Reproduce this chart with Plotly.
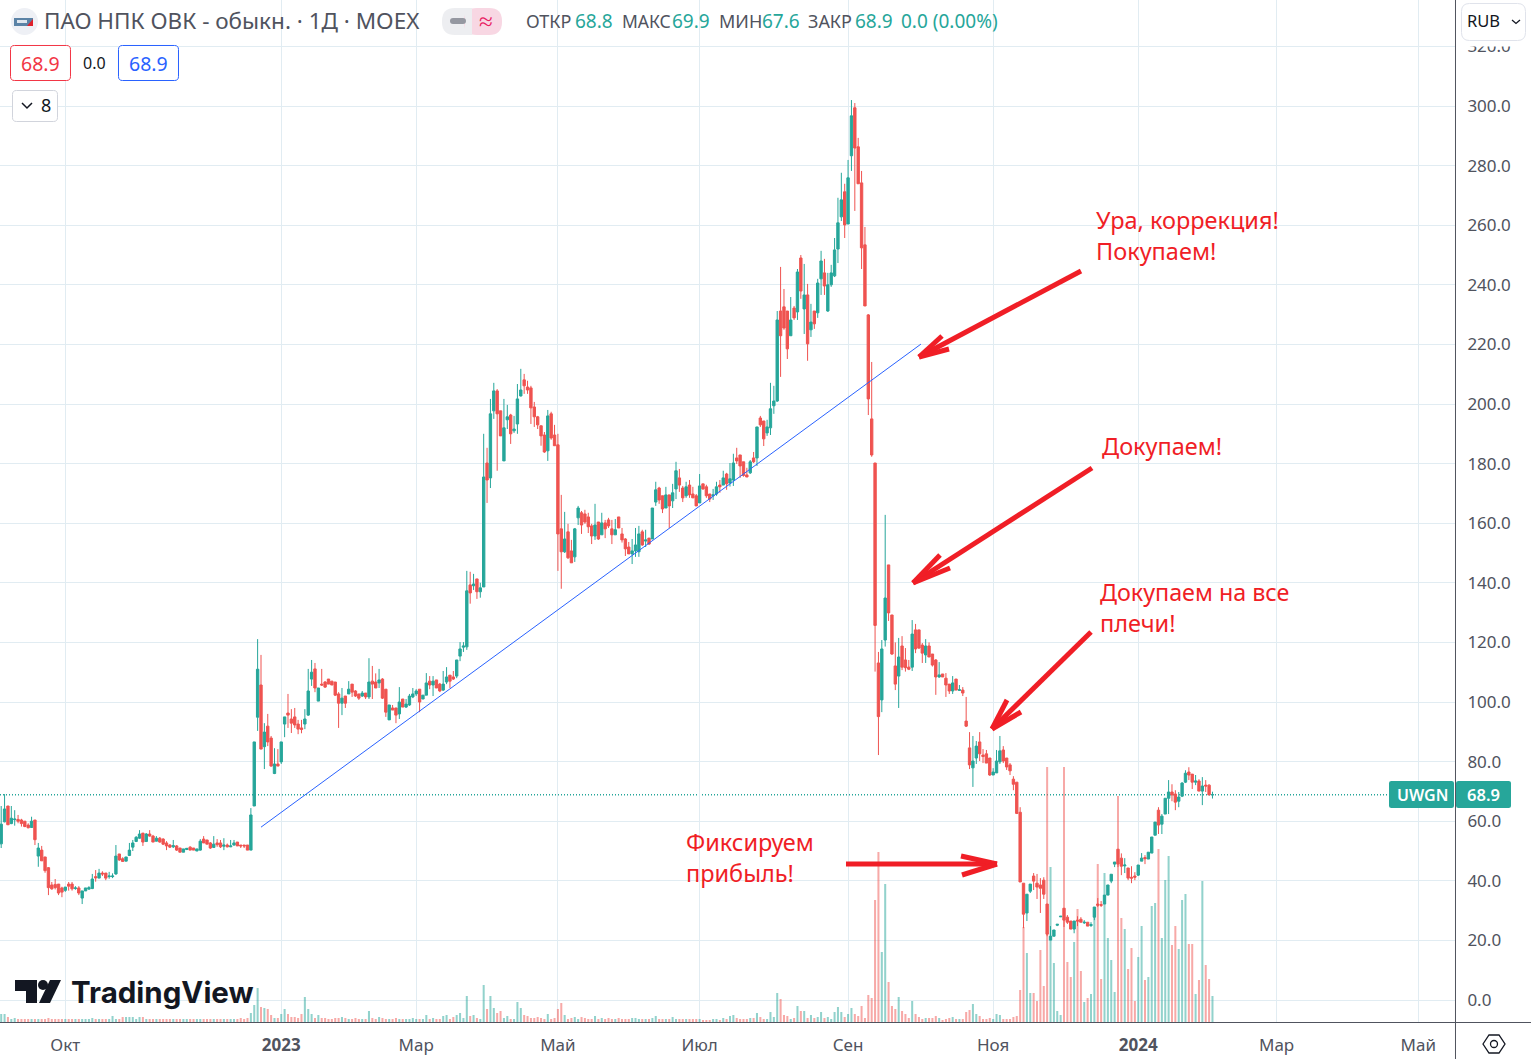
import plotly.graph_objects as go

opens = [
52.4,59.8,65.1,59.2,60.5,60.6,60.4,60.0,58.7,57.9,
60.4,48.3,50.3,48.0,44.4,38.6,38.8,38.9,37.6,36.8,
38.9,38.9,37.4,37.6,34.2,36.6,37.2,37.4,41.4,40.9,
42.6,42.6,41.4,41.4,42.3,49.0,47.4,46.6,48.5,51.3,
53.2,54.3,56.0,53.2,55.7,55.0,53.3,54.3,54.0,52.7,
52.0,51.4,51.7,51.0,49.6,50.5,51.3,51.0,50.0,50.3,
54.0,53.7,52.7,51.2,52.7,52.7,51.6,52.0,51.4,52.0,
53.0,52.0,52.0,52.0,50.3,65.1,94.9,105.7,85.0,91.9,
87.9,76.0,79.2,79.9,92.6,96.3,94.3,95.0,92.6,91.3,
92.6,95.6,107.7,111.1,100.3,106.0,106.7,107.7,107.0,106.7,
102.7,99.6,102.0,102.7,106.0,103.7,102.7,102.0,103.0,101.7,
107.0,106.7,106.4,107.7,104.3,94.0,98.0,98.0,96.0,101.0,
98.3,99.0,101.7,102.7,104.3,101.0,102.3,107.0,105.7,107.4,
106.0,104.0,106.7,109.0,108.4,108.7,115.4,118.4,118.5,139.3,
139.0,141.3,137.0,138.6,180.2,175.2,197.7,204.4,197.7,180.9,
194.7,196.3,191.0,193.3,202.7,208.1,205.7,205.4,199.0,195.7,
192.7,189.6,184.3,196.7,189.6,186.3,158.1,150.4,157.1,150.7,
148.7,161.8,163.5,163.1,162.1,159.1,155.7,160.4,156.1,160.1,
161.1,158.1,156.1,162.1,156.4,154.7,152.0,149.7,150.7,150.4,
157.1,154.0,155.0,154.7,167.1,171.8,169.2,165.1,169.5,167.5,
171.5,175.2,171.8,169.2,172.8,169.8,169.2,166.8,173.2,172.2,
169.8,169.2,169.8,172.8,172.8,176.5,173.5,174.5,181.9,182.9,
180.6,176.2,176.9,181.9,181.9,195.3,194.3,190.3,192.0,199.4,
201.0,231.2,232.6,231.2,222.9,232.2,230.9,249.0,231.9,236.6,
224.9,231.2,230.6,242.0,244.0,231.2,240.0,243.0,252.0,262.8,
271.2,260.4,283.3,299.4,286.3,274.2,253.4,229.9,195.0,180.2,
113.1,100.7,120.8,146.0,129.2,112.1,108.7,118.8,114.1,111.7,
111.7,124.2,124.2,119.1,115.8,118.8,116.1,114.1,108.4,109.4,
108.0,106.0,103.7,107.7,103.9,104.0,93.6,84.6,77.9,81.2,
86.6,82.2,82.6,81.2,75.5,76.2,79.9,83.9,81.2,78.9,
74.1,73.1,63.0,39.2,29.2,36.5,41.6,39.2,38.6,40.2,
32.2,20.1,21.4,25.1,27.9,30.8,27.8,26.5,23.8,26.8,
27.1,25.9,26.1,25.0,27.8,32.2,32.0,32.2,35.2,39.9,
45.6,50.6,47.6,45.0,44.3,41.2,41.6,41.9,46.6,47.8,
47.3,49.3,55.3,63.7,59.0,62.4,67.7,69.8,69.1,66.7,
68.4,73.1,76.5,75.8,73.1,73.5,70.1,72.1,72.1,68.8]

closes = [
59.0,64.1,58.8,61.0,60.7,60.0,59.2,58.2,57.8,60.0,
53.8,51.0,46.7,43.4,37.7,37.3,37.7,35.9,36.2,37.9,
38.2,37.3,37.6,35.9,36.6,37.6,37.7,40.6,41.0,42.6,
42.3,40.9,41.6,41.6,48.3,47.0,46.5,48.0,50.3,52.7,
54.6,55.7,53.0,55.7,55.0,53.0,54.3,53.0,52.3,51.7,
51.3,51.8,50.3,49.6,50.7,50.9,50.3,50.3,50.7,53.3,
52.7,52.3,51.0,52.3,52.1,51.4,52.0,51.4,51.7,52.7,
51.7,51.7,51.7,50.3,62.1,86.6,111.0,84.2,89.9,86.6,
78.5,79.2,78.5,86.6,95.0,95.6,92.9,92.3,90.9,90.8,
94.3,103.7,110.0,104.7,104.7,105.7,105.0,106.0,105.7,102.3,
99.6,101.3,99.6,104.3,103.3,102.0,101.3,103.0,101.7,106.7,
106.0,104.7,107.4,101.3,96.6,99.0,97.3,95.6,100.0,98.3,
99.3,102.0,102.7,103.7,100.0,102.3,106.4,105.7,107.0,104.7,
103.7,106.0,108.4,107.0,107.7,114.1,117.8,118.8,137.3,136.6,
139.6,137.0,138.3,175.5,174.5,196.7,204.4,196.7,189.3,192.0,
195.7,190.0,191.6,201.7,204.7,206.1,204.7,198.7,195.7,193.0,
189.3,183.9,196.0,188.6,186.0,156.4,150.4,154.7,148.4,146.7,
158.1,165.1,159.4,160.4,158.8,155.7,159.4,154.7,160.1,158.1,
159.1,156.1,157.8,158.4,154.4,151.4,149.7,150.7,152.7,156.4,
152.7,154.4,153.0,165.1,171.2,167.8,164.8,169.5,165.8,170.2,
177.6,172.8,168.5,172.2,169.5,168.5,165.8,172.5,171.5,169.2,
168.1,169.5,172.2,172.2,175.2,173.2,174.9,180.2,180.9,179.2,
176.0,175.5,180.6,180.6,192.3,193.0,188.3,192.3,198.4,201.0,
228.2,222.9,225.5,218.5,228.2,228.9,244.3,237.9,236.6,220.2,
227.5,226.9,240.6,248.0,239.6,240.0,244.0,251.7,260.8,268.5,
260.1,275.9,296.7,285.9,273.9,252.4,232.9,201.7,182.9,125.7,
95.1,117.8,134.9,129.9,116.1,106.0,115.1,111.7,111.5,111.0,
122.8,117.8,118.1,116.4,118.8,115.1,112.4,108.4,109.1,108.4,
105.7,103.7,106.4,104.0,104.1,103.0,91.9,78.9,80.2,85.2,
82.6,81.7,79.5,75.5,76.5,80.2,83.6,80.2,78.2,76.9,
72.4,62.6,39.6,28.8,35.5,38.9,39.9,37.9,37.5,35.5,
22.1,21.4,23.5,25.4,28.1,26.8,26.1,23.8,26.5,26.5,
26.1,26.1,24.8,25.3,31.2,31.8,31.8,35.2,38.6,42.2,
46.3,45.6,44.9,45.3,40.9,40.9,41.2,45.3,47.6,47.4,
49.6,54.7,59.7,58.7,61.7,67.7,69.8,68.8,66.4,68.1,
72.8,76.1,75.5,73.1,73.5,70.1,71.8,71.8,68.8,68.9]

highs = [
65.1,69.1,65.1,65.1,63.7,62.1,60.8,60.0,59.3,61.5,
60.4,52.7,51.7,48.0,44.6,39.6,40.6,38.9,38.0,37.9,
39.6,39.6,38.2,38.2,36.6,37.6,38.2,42.3,43.6,44.0,
43.2,42.6,43.0,42.5,52.0,49.0,47.9,48.0,52.7,53.7,
55.0,57.0,56.0,56.0,57.0,55.4,55.0,54.7,54.3,53.3,
52.3,53.7,52.0,51.0,50.7,50.9,51.6,51.0,50.7,54.0,
55.0,53.7,53.0,55.0,54.0,53.7,54.3,52.5,53.7,53.7,
53.0,52.0,52.0,52.0,64.4,86.6,121.1,115.8,92.9,96.0,
88.6,84.5,84.2,86.6,95.0,102.7,97.6,98.0,94.0,94.0,
97.6,111.1,114.1,113.1,104.7,111.1,107.0,107.7,107.0,106.7,
103.3,104.7,102.0,107.0,106.0,104.0,102.7,103.7,103.0,114.7,
112.1,109.6,111.1,108.0,104.3,99.0,99.0,98.0,105.0,101.0,
101.0,102.7,104.7,104.3,104.3,102.3,109.7,108.7,108.7,107.4,
106.4,110.4,111.7,109.0,110.4,114.1,120.1,120.1,144.0,143.7,
143.0,141.3,140.0,190.0,185.3,201.7,207.1,205.0,197.7,201.7,
199.7,196.7,196.0,206.7,211.8,210.1,207.8,206.1,200.7,196.0,
192.7,190.6,198.0,197.4,193.0,190.0,169.5,163.8,159.8,154.4,
158.4,165.8,164.1,164.5,163.5,159.8,166.5,160.4,163.5,161.1,
161.8,161.1,161.4,162.1,158.4,155.0,153.7,154.7,158.4,159.1,
157.8,157.8,155.0,165.1,173.9,172.2,169.2,172.2,169.5,173.2,
180.6,178.2,172.5,173.9,174.5,172.2,169.8,176.5,173.2,172.9,
169.8,171.5,173.9,174.5,177.6,176.9,180.2,183.3,185.3,182.9,
180.6,178.6,181.2,183.9,192.3,196.0,194.3,194.7,207.1,206.1,
231.2,246.0,238.6,231.2,235.9,232.9,245.3,250.0,247.0,240.3,
233.6,231.2,242.0,251.4,248.7,244.0,246.7,255.7,269.2,277.6,
273.9,281.9,302.0,301.0,289.3,278.2,259.4,230.2,214.1,180.2,
116.8,120.8,162.8,146.0,129.2,120.0,121.5,122.1,118.1,114.1,
127.5,126.2,124.2,119.8,121.1,120.0,116.1,114.4,113.4,109.4,
109.7,106.0,108.7,107.7,105.7,105.0,101.7,89.9,88.6,86.9,
89.9,84.2,83.9,81.2,77.8,83.9,88.6,85.2,81.2,79.5,
75.1,73.1,64.7,39.2,35.5,38.9,42.6,42.3,40.9,41.2,
32.2,24.8,23.5,25.5,28.1,30.8,28.5,26.5,26.5,28.1,
27.8,26.8,26.1,26.1,31.2,34.2,33.2,35.2,38.6,42.2,
46.3,50.6,49.2,47.6,44.3,44.9,42.9,45.3,49.3,48.6,
49.6,54.7,59.7,64.7,62.4,67.7,73.8,72.4,70.4,69.8,
73.1,77.1,78.1,75.8,75.5,74.1,74.8,73.8,72.4,69.9]

lows = [
51.0,59.6,58.8,59.0,58.5,59.3,58.2,58.0,57.6,57.9,
52.0,44.7,46.7,42.7,35.2,37.0,37.1,35.2,34.5,36.3,
36.7,36.7,37.0,35.2,32.2,36.6,37.1,37.2,39.7,40.9,
41.6,40.2,40.7,40.9,42.0,46.7,46.4,46.6,48.3,50.0,
53.0,54.1,51.7,53.0,54.8,53.0,53.2,52.8,52.0,50.3,
51.0,51.0,50.0,49.6,49.6,50.3,50.3,50.3,50.0,50.1,
52.7,52.3,50.7,51.0,51.4,51.0,50.3,51.2,51.3,51.8,
51.7,51.0,51.0,50.3,50.3,65.1,90.3,84.2,77.5,85.2,
78.3,75.8,78.5,79.2,88.2,91.3,89.6,91.3,89.2,89.5,
90.9,95.3,105.4,103.3,100.3,105.4,104.7,106.0,105.7,102.0,
91.3,95.6,98.0,102.7,101.7,101.7,100.7,101.7,101.0,101.0,
101.0,104.7,104.7,101.0,95.0,94.0,97.3,92.9,94.3,98.3,
98.0,98.7,101.3,102.0,96.6,101.0,102.3,104.3,102.0,104.7,
103.3,103.7,106.0,104.7,107.4,108.0,113.7,116.8,117.5,133.0,
137.6,134.6,135.0,138.6,166.8,171.8,195.0,177.6,189.3,180.9,
191.6,186.6,190.3,190.0,202.5,203.4,203.4,193.3,192.3,191.6,
186.0,183.6,180.9,188.0,186.0,144.0,138.0,150.0,148.0,146.7,
147.0,159.4,156.4,159.8,156.7,153.0,154.4,154.4,156.1,155.0,
158.4,153.0,156.1,158.4,153.5,149.0,149.7,146.3,148.7,148.7,
152.4,152.0,152.7,154.7,165.8,166.5,163.4,165.1,158.4,165.1,
168.1,170.5,167.1,168.5,168.5,168.5,165.8,166.8,171.2,168.5,
167.1,167.8,169.2,170.2,172.8,171.2,172.3,172.5,179.9,175.2,
175.6,175.5,176.5,180.2,179.2,192.3,185.9,189.3,189.6,196.7,
200.7,209.1,224.9,215.1,222.9,228.2,228.2,235.3,223.5,214.5,
222.5,225.2,228.9,236.6,236.6,230.9,239.3,242.6,247.3,261.4,
255.7,260.4,278.2,264.8,273.9,245.3,232.9,196.3,182.3,110.2,
82.2,96.6,118.6,127.2,115.8,104.0,98.0,110.7,110.2,110.7,
110.4,116.4,117.8,113.1,113.1,115.1,111.9,102.4,108.1,108.4,
101.7,102.7,102.7,104.0,103.7,102.0,91.6,77.5,71.5,79.2,
80.2,79.5,79.5,75.2,75.5,76.2,79.2,79.5,77.2,75.5,
70.4,62.4,39.6,24.1,26.5,35.9,36.9,33.9,29.2,33.9,
21.4,20.1,21.4,24.8,27.9,24.5,25.5,23.8,22.4,24.8,
26.1,25.5,24.8,24.5,26.8,31.2,31.2,32.2,35.2,39.2,
44.6,44.6,41.9,42.6,40.2,39.2,40.2,41.6,46.6,45.6,
47.3,49.3,55.3,55.7,55.7,62.4,62.4,66.7,63.7,64.7,
68.1,72.8,73.8,70.8,72.1,70.1,65.4,69.8,68.8,67.6]

volumes = [
8,8,5,3,4,3,3,3,3,3,
3,3,3,3,4,3,3,3,3,3,
3,3,3,3,3,3,3,4,3,3,
3,3,3,6,3,3,5,5,5,5,
3,5,5,3,3,3,3,3,3,3,
3,3,3,3,3,3,3,3,3,3,
3,3,3,3,3,3,3,3,3,3,
3,4,3,4,9,17,34,15,14,13,
7,4,4,8,13,8,5,5,4,8,
25,13,8,4,7,4,4,3,3,4,
4,5,4,3,3,4,3,3,3,11,
4,3,5,4,3,3,3,4,3,3,
3,3,4,3,3,3,7,3,4,3,
3,6,7,3,5,7,9,4,26,6,
7,4,3,37,13,26,14,9,11,4,
6,3,3,20,14,7,6,4,4,5,
4,3,8,3,4,13,19,7,3,4,
5,3,5,4,3,3,6,3,4,3,
4,3,3,4,3,3,3,4,4,3,
3,3,3,4,6,3,3,3,3,5,
3,3,3,3,3,3,3,3,2,2,
2,3,3,2,4,3,6,7,4,3,
3,3,4,4,9,5,3,3,10,5,
29,23,7,6,3,4,16,11,11,4,
7,4,5,10,4,5,3,10,15,10,
5,8,14,8,6,16,4,27,24,122,
170,70,138,40,16,13,25,11,8,4,
21,8,5,3,4,4,4,6,4,2,
3,4,5,3,3,3,10,12,18,8,
6,3,3,4,3,8,7,3,3,3,
5,6,32,95,69,29,29,21,72,36,
255,155,59,11,7,255,60,45,80,113,
51,20,24,28,113,158,43,149,84,62,
30,226,104,93,53,74,21,65,96,42,
45,116,119,173,84,142,166,77,96,73,
122,128,78,78,28,42,141,57,43,26]

assert len(opens)==len(closes)==len(highs)==len(lows)==len(volumes)==360

candle_index = list(range(len(closes)))

tick_positions = [19, 83, 123, 165, 207, 251, 294, 337, 378, 420]
tick_labels = ["Окт", "<b>2023</b>", "Мар", "Май", "Июл", "Сен", "Ноя", "<b>2024</b>", "Мар", "Май"]
price_ticks = list(range(0, 321, 20))
price_labels = [f"{v:.1f}" for v in price_ticks]
trend_index = [77, 272.6]
trend_price = [58.0, 220.1]
last_price = 68.9

UP = "#26a69a"; DOWN = "#ef5350"; RED = "#f01e26"; GRID = "#e1ecf2"; TXT = "#50535e"; DARK = "#131722"
FONT = "Noto Sans"
PW, PH = 1455, 1022
B, A = 3.374, 1.2
Y0, K = 1000.0, 2.98

def px(x): return x / PW
def py(y): return 1 - y / PH

vol_colors = ["rgba(38,166,154,0.5)" if c >= o else "rgba(239,83,80,0.5)" for o, c in zip(opens, closes)]

fig = go.Figure()
fig.add_trace(go.Bar(x=candle_index, y=volumes, width=0.6, marker=dict(color=vol_colors, line_width=0),
                     yaxis="y", hoverinfo="skip", showlegend=False))
fig.add_trace(go.Candlestick(x=candle_index, open=opens, high=highs, low=lows, close=closes, yaxis="y2",
                             increasing=dict(line=dict(color=UP, width=1), fillcolor=UP),
                             decreasing=dict(line=dict(color=DOWN, width=1), fillcolor=DOWN),
                             whiskerwidth=0, showlegend=False, hoverinfo="skip"))
fig.add_trace(go.Scatter(x=trend_index, y=trend_price, yaxis="y2", mode="lines",
                         line=dict(color="#2962ff", width=1), hoverinfo="skip", showlegend=False))

shapes = []
annos = []

def line_px(pts, color, width):
    d = "M" + "L".join(f"{px(x):.5f},{py(y):.5f}" for x, y in pts)
    shapes.append(dict(type="path", path=d, xref="paper", yref="paper", line=dict(color=color, width=width), layer="above"))

def poly_px(pts, fill, color=None, width=0):
    d = "M" + "L".join(f"{px(x):.5f},{py(y):.5f}" for x, y in pts) + "Z"
    shapes.append(dict(type="path", path=d, xref="paper", yref="paper", fillcolor=fill,
                       line=dict(color=color or fill, width=width), layer="above"))

def rrect(x0, y0, x1, y1, r, fill, color=None, width=1):
    c = lambda x, y: f"{px(x):.5f},{py(y):.5f}"
    d = (f"M{c(x0+r,y0)}L{c(x1-r,y0)}Q{c(x1,y0)} {c(x1,y0+r)}L{c(x1,y1-r)}Q{c(x1,y1)} {c(x1-r,y1)}"
         f"L{c(x0+r,y1)}Q{c(x0,y1)} {c(x0,y1-r)}L{c(x0,y0+r)}Q{c(x0,y0)} {c(x0+r,y0)}Z")
    shapes.append(dict(type="path", path=d, xref="paper", yref="paper", fillcolor=fill,
                       line=dict(color=color or fill, width=width if color else 0), layer="above"))

def circle(cx, cy, r, fill, color=None, width=0):
    shapes.append(dict(type="circle", xref="paper", yref="paper", x0=px(cx-r), x1=px(cx+r), y0=py(cy+r), y1=py(cy-r),
                       fillcolor=fill, line=dict(color=color or fill, width=width), layer="above"))

def text(x, y, s, size, color, anchor="left", family=FONT, weight=None):
    font = dict(family=family, size=size, color=color)
    if weight:
        font["weight"] = weight
    annos.append(dict(x=px(x), y=py(y), xref="paper", yref="paper", text=s, showarrow=False, xanchor=anchor,
                      yanchor="middle", borderpad=0, font=font))

# last-price dotted line
shapes.append(dict(type="line", xref="paper", yref="y2", x0=0, x1=px(1389), y0=last_price, y1=last_price,
                   line=dict(color=UP, width=1.5, dash="1px,2px"), layer="below"))

# white strip that hides the upper part of the top price label
poly_px([(1457, 0), (1531, 0), (1531, 46.5), (1457, 46.5)], "white")

# axis frame
line_px([(1455.5, 0), (1455.5, 1059)], TXT, 1)
line_px([(0, 1022.5), (1531, 1022.5)], TXT, 1)

# arrows
for shaft, b1, b2 in [
    ([(1081, 271), (919, 357)], (942, 336), (949, 349)),
    ([(1092, 468), (913, 583)], (940, 555), (950, 568)),
    ([(1091, 632), (992, 729)], (1007, 700), (1021, 712)),
    ([(846, 864), (997, 864)], (961, 856), (962, 875)),
]:
    tip = shaft[1]
    line_px(shaft, RED, 5)
    line_px([b1, tip], RED, 5)
    line_px([b2, tip], RED, 5)

# red notes
text(1095, 220, "Ура, коррекция!", 23.5, RED)
text(1095, 251, "Покупаем!", 23.5, RED)
text(1101, 446, "Докупаем!", 23.5, RED)
text(1099, 592, "Докупаем на все", 23.3, RED)
text(1099, 623, "плечи!", 23.5, RED)
text(685, 842, "Фиксируем", 23.5, RED)
text(685, 873, "прибыль!", 23.5, RED)

# header
circle(24.5, 21.5, 13.5, "#eef0f5")
poly_px([(14, 18), (33, 18), (33, 26), (14, 26)], "#5b83a6")
poly_px([(33, 19), (33, 26), (27, 26)], "#e0202a")
poly_px([(17, 20), (27, 20), (27, 23), (17, 23)], "#dfe6ee")
text(43, 21, "ПАО НПК ОВК - обыкн. · 1Д · MOEX", 22.5, TXT)
rrect(442, 8, 480, 35, 13, "#edeef1")
rrect(464, 8, 502, 35, 13, "#f8d7e3")
poly_px([(465, 8), (472, 8), (472, 35), (465, 35)], "#edeef1")
rrect(450, 18, 466, 24, 3, "#9598a1")
text(486, 20, "≈", 25, "#e91e63", "center")
for x, s, col, sz in [(525, "ОТКР", TXT, 18), (574, "68.8", UP, 19), (621, "МАКС", TXT, 17.5), (671, "69.9", UP, 19),
                      (718, "МИН", TXT, 18), (761, "67.6", UP, 19), (807, "ЗАКР", TXT, 18), (854, "68.9", UP, 19),
                      (900, "0.0 (0.00%)", UP, 19)]:
    text(x, 21, s, sz, col)
rrect(10.5, 45.5, 70.5, 80.5, 4, "white", "#f23645", 1)
text(40.5, 63, "68.9", 19.5, "#f23645", "center")
text(94, 63, "0.0", 16, DARK, "center")
rrect(118.5, 45.5, 178.5, 80.5, 4, "white", "#2962ff", 1)
text(148.5, 63, "68.9", 19.5, "#2962ff", "center")
rrect(12.5, 90.5, 57.5, 121.5, 4, "white", "#d1d4dc", 1)
line_px([(22, 103), (27, 108), (32, 103)], DARK, 1.5)
text(46, 105, "8", 18, DARK, "center")

# currency button and settings icon
rrect(1461.5, 3.5, 1525.5, 40.5, 8, "white", "#e0e3eb", 1)
text(1466, 21, "RUB", 16.5, DARK)
line_px([(1512, 20), (1516, 23.5), (1520, 20)], DARK, 1.3)
d = [(1483, 1044), (1489, 1035), (1499, 1035), (1505, 1044), (1499, 1053), (1489, 1053)]
poly_px(d, "white", DARK, 1.3)
circle(1494, 1044, 3.5, "white", DARK, 1.3)

# price label
rrect(1389, 781, 1454, 808, 2.5, UP)
rrect(1456, 781, 1511, 808, 2.5, UP)
text(1422, 794.5, "UWGN", 16, "white", "center", weight=600)
text(1483.5, 794.5, "68.9", 16.5, "white", "center", weight=600)

# TradingView logo
poly_px([(15, 980), (37, 980), (37, 1003), (26, 1003), (26, 991), (15, 991)], DARK)
circle(43, 985, 5, DARK)
poly_px([(50, 980), (61, 980), (50, 1003), (39, 1003)], DARK)
text(70, 992, "TradingView", 29.5, DARK, family="Inter", weight=700)

fig.update_layout(
    width=1531, height=1059, margin=dict(l=0, r=76, t=0, b=37, pad=0),
    paper_bgcolor="white", plot_bgcolor="white", showlegend=False, hovermode=False, dragmode=False,
    boxgap=0.3, boxgroupgap=0,
    xaxis=dict(type="linear", range=[(0 - A) / B, (PW - A) / B], rangeslider=dict(visible=False),
               tickmode="array", tickvals=tick_positions, ticktext=tick_labels, showgrid=True, gridcolor=GRID,
               gridwidth=1, zeroline=False, showline=False, ticks="outside", ticklen=8, tickcolor="rgba(0,0,0,0)",
               tickfont=dict(family=FONT, size=17, color=TXT), tickangle=0),
    yaxis=dict(domain=[0, 1], range=[0, PH], visible=False, fixedrange=True),
    yaxis2=dict(overlaying="y", side="right", range=[(Y0 - PH) / K, Y0 / K], tickmode="array", tickvals=price_ticks,
                ticktext=price_labels, showgrid=True, gridcolor=GRID, gridwidth=1, zeroline=False, showline=False,
                ticks="outside", ticklen=8, tickcolor="rgba(0,0,0,0)", tickfont=dict(family=FONT, size=17, color=TXT)),
    shapes=shapes, annotations=annos,
)
fig.write_html("out.html", config=dict(displayModeBar=False),
               post_script="document.body.style.margin='0';document.body.style.overflow='hidden';")
